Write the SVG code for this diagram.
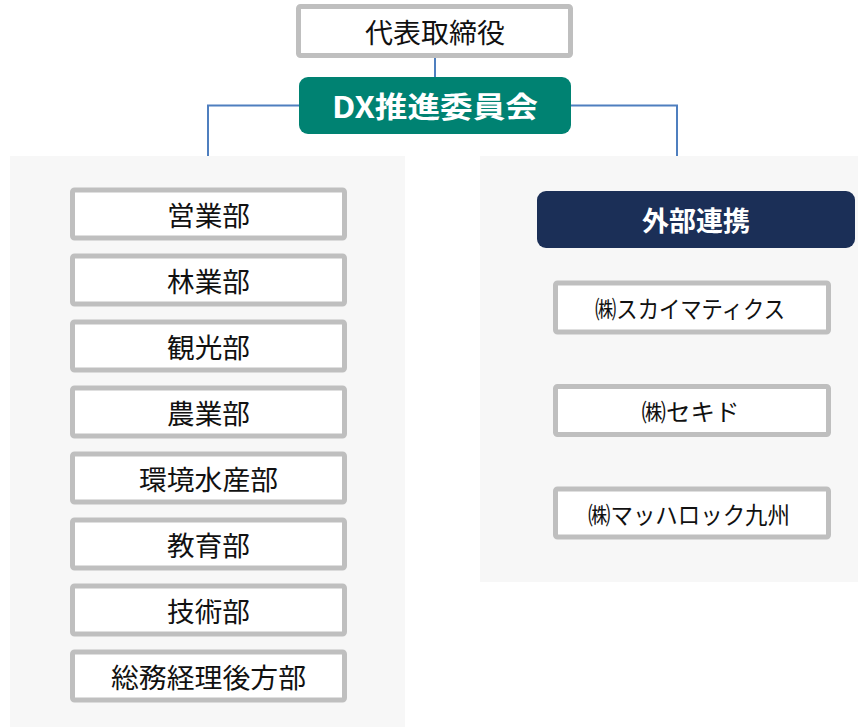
<svg xmlns="http://www.w3.org/2000/svg" width="858" height="727" viewBox="0 0 858 727">
<style>
.panel{fill:#f7f7f7}
.box{fill:#ffffff;stroke:#bfbfbf;stroke-width:5}
.t{font-family:"Noto Sans CJK JP","Noto Sans",sans-serif;fill:#111111;text-anchor:middle;dominant-baseline:central}
.tb{font-family:"Noto Sans CJK JP","Noto Sans",sans-serif;fill:#ffffff;font-weight:bold;text-anchor:middle;dominant-baseline:central}
.conn{fill:none;stroke:#4f7fbf;stroke-width:2}
</style>
<rect class="panel" x="10" y="156" width="395" height="571"/>
<rect class="panel" x="480" y="156" width="378" height="426"/>
<g id="connectors">
<line class="conn" x1="435" y1="56" x2="435" y2="78"/>
<polyline class="conn" points="300,105.5 208,105.5 208,156"/>
<polyline class="conn" points="570,105.5 677,105.5 677,156"/>
</g>
<g id="ceo"><rect class="box" x="298.5" y="6.5" width="272" height="49" rx="2"/><text class="t" x="435" y="31" font-size="27" textLength="140" lengthAdjust="spacingAndGlyphs">代表取締役</text></g>
<g id="dx"><rect x="299" y="77" width="272" height="57" rx="9" fill="#008272"/><text class="tb" x="435" y="105" font-size="29" textLength="206" lengthAdjust="spacingAndGlyphs">DX推進委員会</text></g>
<g id="d1"><rect class="box" x="72.5" y="190" width="272" height="48" rx="2"/><text class="t" x="208.5" y="214" font-size="27" textLength="83" lengthAdjust="spacingAndGlyphs">営業部</text></g>
<g id="d2"><rect class="box" x="72.5" y="256" width="272" height="48" rx="2"/><text class="t" x="208.5" y="280" font-size="27" textLength="83" lengthAdjust="spacingAndGlyphs">林業部</text></g>
<g id="d3"><rect class="box" x="72.5" y="322" width="272" height="48" rx="2"/><text class="t" x="208.5" y="346" font-size="27" textLength="83" lengthAdjust="spacingAndGlyphs">観光部</text></g>
<g id="d4"><rect class="box" x="72.5" y="388" width="272" height="48" rx="2"/><text class="t" x="208.5" y="412" font-size="27" textLength="83" lengthAdjust="spacingAndGlyphs">農業部</text></g>
<g id="d5"><rect class="box" x="72.5" y="454" width="272" height="48" rx="2"/><text class="t" x="208.5" y="478" font-size="27" textLength="139" lengthAdjust="spacingAndGlyphs">環境水産部</text></g>
<g id="d6"><rect class="box" x="72.5" y="520" width="272" height="48" rx="2"/><text class="t" x="208.5" y="544" font-size="27" textLength="83" lengthAdjust="spacingAndGlyphs">教育部</text></g>
<g id="d7"><rect class="box" x="72.5" y="586" width="272" height="48" rx="2"/><text class="t" x="208.5" y="610" font-size="27" textLength="83" lengthAdjust="spacingAndGlyphs">技術部</text></g>
<g id="d8"><rect class="box" x="72.5" y="652" width="272" height="48" rx="2"/><text class="t" x="208.5" y="676" font-size="27" textLength="195" lengthAdjust="spacingAndGlyphs">総務経理後方部</text></g>
<g id="ext"><rect x="537" y="191" width="318" height="57" rx="9" fill="#1b2f57"/><text class="tb" x="696" y="219.5" font-size="27" textLength="108" lengthAdjust="spacingAndGlyphs">外部連携</text></g>
<g id="p1"><rect class="box" x="555.5" y="283" width="273" height="49" rx="2"/><text class="t" x="690" y="307.5" font-size="24" textLength="190" lengthAdjust="spacingAndGlyphs">㈱スカイマティクス</text></g>
<g id="p2"><rect class="box" x="555.5" y="386.5" width="273" height="48" rx="2"/><text class="t" x="690.5" y="410.5" font-size="24" textLength="98" lengthAdjust="spacingAndGlyphs">㈱セキド</text></g>
<g id="p3"><rect class="box" x="555.5" y="489" width="273" height="48" rx="2"/><text class="t" x="689" y="513" font-size="24" textLength="202" lengthAdjust="spacingAndGlyphs">㈱マッハロック九州</text></g>
</svg>
